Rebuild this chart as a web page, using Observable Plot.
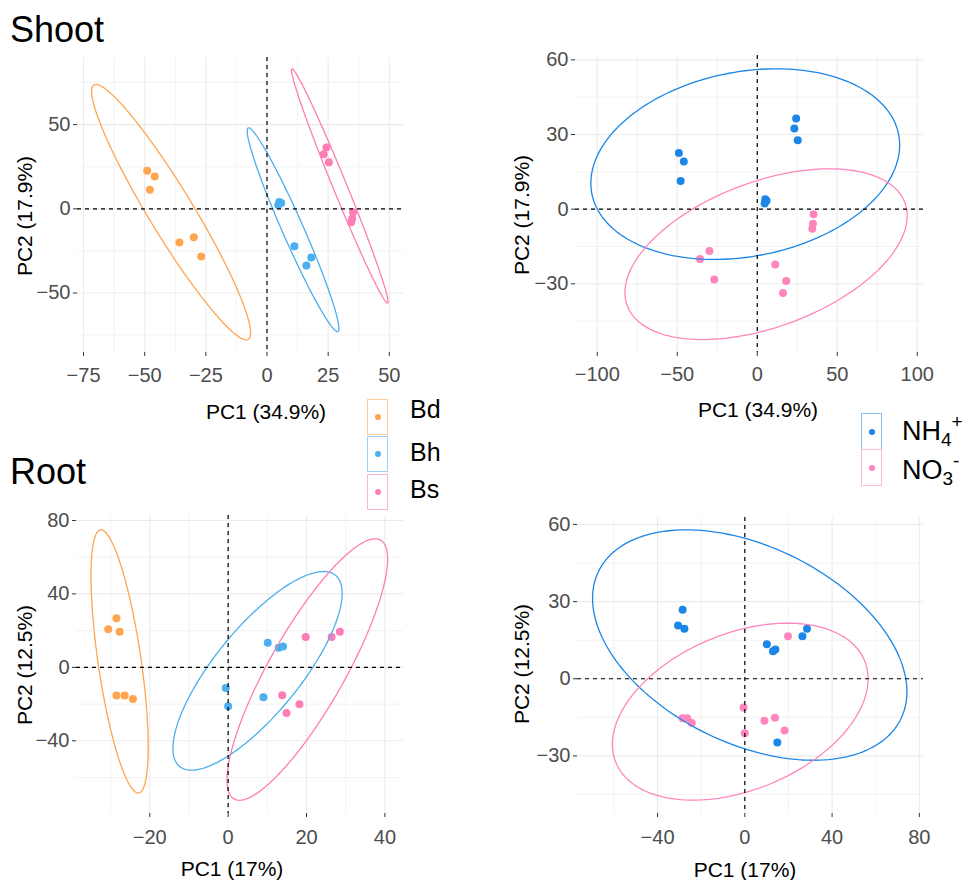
<!DOCTYPE html>
<html>
<head>
<meta charset="utf-8">
<script src="https://cdn.jsdelivr.net/npm/d3@7"></script>
<script src="https://cdn.jsdelivr.net/npm/@observablehq/plot@0.6"></script>
<style>
  html, body { margin: 0; padding: 0; background: #fff; }
  #root { position: relative; width: 969px; height: 880px; overflow: hidden; font-family: "Liberation Sans", Arial, sans-serif; background: #fff; }
  .abs { position: absolute; white-space: nowrap; line-height: 1; }
  .panel { position: absolute; }
</style>
</head>
<body>
<div id="root"></div>
<script>
// ---------------- DATA ----------------
const genotypes = ["Bd", "Bh", "Bs"];
const nitrogens = ["NH4+", "NO3-"];
const genotypeColors = ["#FFA552", "#4AAFEE", "#FF7DB5"];
const nitrogenColors = ["#1B86E6", "#FF86BD"];
const genotypeKeyBorders = ["#FFCC9C", "#9ED3F5", "#FFB3D4"];
const nitrogenKeyBorders = ["#8CC0F2", "#FFB8D8"];

// Shoot samples
const shootGenotype = ["Bd","Bd","Bd","Bd","Bd","Bd","Bh","Bh","Bh","Bh","Bh","Bh","Bs","Bs","Bs","Bs","Bs","Bs"];
const shootNitrogen = ["NH4+","NH4+","NH4+","NO3-","NO3-","NO3-","NH4+","NH4+","NH4+","NO3-","NO3-","NO3-","NH4+","NH4+","NH4+","NO3-","NO3-","NO3-"];
const shootPC1 = [-49.0, -45.9, -47.9, -35.8, -29.9, -26.9, 5.0, 5.8, 4.6, 11.2, 18.1, 16.1, 24.3, 23.2, 25.3, 35.2, 34.8, 34.4];
const shootPC2 = [22.6, 19.2, 11.3, -20.0, -16.8, -28.3, 4.0, 3.4, 2.3, -22.2, -28.9, -33.7, 36.4, 32.4, 27.7, -2.0, -5.9, -7.9];

// Root samples
const rootGenotype = ["Bd","Bd","Bd","Bd","Bd","Bd","Bh","Bh","Bh","Bh","Bh","Bh","Bs","Bs","Bs","Bs","Bs","Bs"];
const rootNitrogen = ["NH4+","NH4+","NH4+","NO3-","NO3-","NO3-","NH4+","NH4+","NH4+","NO3-","NO3-","NO3-","NH4+","NH4+","NH4+","NO3-","NO3-","NO3-"];
const rootPC1 = [-28.5, -30.6, -27.7, -28.5, -26.4, -24.3, 10.1, 12.9, 14.0, -0.6, 0.0, 9.0, 26.4, 28.5, 14.9, 19.8, 13.8, 18.2];
const rootPC2 = [26.8, 20.7, 19.4, -15.4, -15.4, -17.2, 13.4, 10.7, 11.4, -11.2, -21.2, -16.3, 16.5, 19.4, -24.8, 16.5, -15.2, -20.1];

// Confidence ellipses (centre, half-ranges, correlation)
const shootGenoEllCx = [-39.2, 10.65, 29.75];
const shootGenoEllCy = [-2.0, -12.4, 13.55];
const shootGenoEllRx = [32.5, 18.75, 19.75];
const shootGenoEllRy = [75.8, 60.5, 69.55];
const shootGenoEllRho = [-0.945, -0.968, -0.988];

const shootNitEllCx = [-7.5, 5.5];
const shootNitEllCy = [18.1, -18.1];
const shootNitEllRx = [96.5, 88.2];
const shootNitEllRy = [38.3, 34.3];
const shootNitEllRho = [0.2, 0.45];

const rootGenoEllCx = [-27.7, 7.5, 20.2];
const rootGenoEllCy = [3.25, -1.9, -1.2];
const rootGenoEllRx = [7.3, 21.6, 20.5];
const rootGenoEllRy = [71.65, 54.1, 71.2];
const rootGenoEllRho = [-0.65, 0.78, 0.845];

const rootNitEllCx = [2.25, -2.1];
const rootNitEllCy = [13.1, -12.8];
const rootNitEllRx = [72.05, 58.6];
const rootNitEllRy = [44.8, 34.4];
const rootNitEllRho = [-0.405, 0.37];

// Tick values
const shootGenoXTicks = [-75, -50, -25, 0, 25, 50];
const shootGenoXMinor = [-62.5, -37.5, -12.5, 12.5, 37.5];
const shootGenoYTicks = [-50, 0, 50];
const shootGenoYMinor = [-75, -25, 25, 75];
const shootNitXTicks = [-100, -50, 0, 50, 100];
const shootNitXMinor = [-75, -25, 25, 75];
const shootNitYTicks = [-30, 0, 30, 60];
const shootNitYMinor = [-45, -15, 15, 45];
const rootGenoXTicks = [-20, 0, 20, 40];
const rootGenoXMinor = [-30, -10, 10, 30];
const rootGenoYTicks = [-40, 0, 40, 80];
const rootGenoYMinor = [-60, -20, 20, 60];
const rootNitXTicks = [-40, 0, 40, 80];
const rootNitXMinor = [-60, -20, 20, 60];
const rootNitYTicks = [-30, 0, 30, 60];
const rootNitYMinor = [-45, -15, 15, 45];

// ---------------- BUILD ----------------
function samples(pc1, pc2, geno, nit) {
  return pc1.map((v, i) => ({x: v, y: pc2[i], genotype: geno[i], nitrogen: nit[i]}));
}
function ellipse(groups, cx, cy, rx, ry, rho) {
  const out = [];
  const n = 180;
  groups.forEach((g, i) => {
    const phi = Math.acos(rho[i]);
    for (let k = 0; k <= n; k++) {
      const t = 2 * Math.PI * k / n;
      out.push({g, x: cx[i] + rx[i] * Math.cos(t), y: cy[i] + ry[i] * Math.cos(t - phi)});
    }
  });
  return out;
}

const FONT = '"Liberation Sans", Arial, sans-serif';

function panel(o) {
  return Plot.plot({
    width: o.width, height: o.height,
    marginLeft: o.ml, marginRight: o.mr, marginTop: o.mt, marginBottom: o.mb,
    style: {background: "transparent", fontFamily: FONT, overflow: "visible"},
    x: {domain: o.xDomain, axis: null},
    y: {domain: o.yDomain, axis: null},
    color: {domain: o.groups, range: o.colors},
    marks: [
      Plot.gridX(o.xMinor, {stroke: "#EBEBEB", strokeOpacity: 1, strokeWidth: 0.6}),
      Plot.gridY(o.yMinor, {stroke: "#EBEBEB", strokeOpacity: 1, strokeWidth: 0.6}),
      Plot.gridX(o.xTicks, {stroke: "#EBEBEB", strokeOpacity: 1, strokeWidth: 1.1}),
      Plot.gridY(o.yTicks, {stroke: "#EBEBEB", strokeOpacity: 1, strokeWidth: 1.1}),
      Plot.axisX(o.xTicks, {anchor: "bottom", tickSize: 4, tickPadding: o.xPad, fontSize: 20, color: "#4D4D4D", stroke: "#333333", label: null}),
      Plot.axisY(o.yTicks, {anchor: "left", tickSize: 4, tickPadding: 3, fontSize: 20, color: "#4D4D4D", stroke: "#333333", label: null}),
      Plot.dot(o.points, {x: "x", y: "y", fill: o.key, r: 4, stroke: null}),
      Plot.line(o.ell, {x: "x", y: "y", z: "g", stroke: "g", strokeWidth: 1.3, curve: "linear"}),
      Plot.ruleX([0], {stroke: "#000", strokeWidth: 1.2, strokeDasharray: "4,4"}),
      Plot.ruleY([0], {stroke: "#000", strokeWidth: 1.2, strokeDasharray: "4,4"})
    ]
  });
}

const root = document.getElementById("root");
function place(el, left, top) {
  const d = document.createElement("div");
  d.className = "panel";
  d.style.left = left + "px";
  d.style.top = top + "px";
  d.appendChild(el);
  root.appendChild(d);
}

const shootPts = samples(shootPC1, shootPC2, shootGenotype, shootNitrogen);
const rootPts = samples(rootPC1, rootPC2, rootGenotype, rootNitrogen);

place(panel({
  width: 480, height: 440, ml: 77, mr: 77, mt: 57, mb: 88, xPad: 11,
  xDomain: [-77.47, 55.8], yDomain: [-85.3, 89.85],
  xTicks: shootGenoXTicks, xMinor: shootGenoXMinor, yTicks: shootGenoYTicks, yMinor: shootGenoYMinor,
  groups: genotypes, colors: genotypeColors, key: "genotype", points: shootPts,
  ell: ellipse(genotypes, shootGenoEllCx, shootGenoEllCy, shootGenoEllRx, shootGenoEllRy, shootGenoEllRho)
}), 0, 0);

place(panel({
  width: 489, height: 440, ml: 95, mr: 46, mt: 55, mb: 88, xPad: 10,
  xDomain: [-113.6, 103.9], yDomain: [-57.6, 61.75],
  xTicks: shootNitXTicks, xMinor: shootNitXMinor, yTicks: shootNitYTicks, yMinor: shootNitYMinor,
  groups: nitrogens, colors: nitrogenColors, key: "nitrogen", points: shootPts,
  ell: ellipse(nitrogens, shootNitEllCx, shootNitEllCy, shootNitEllRx, shootNitEllRy, shootNitEllRho)
}), 480, 0);

place(panel({
  width: 480, height: 440, ml: 76, mr: 77, mt: 75, mb: 67, xPad: 12,
  xDomain: [-38.7, 44.75], yDomain: [-79.6, 82.7],
  xTicks: rootGenoXTicks, xMinor: rootGenoXMinor, yTicks: rootGenoYTicks, yMinor: rootGenoYMinor,
  groups: genotypes, colors: genotypeColors, key: "genotype", points: rootPts,
  ell: ellipse(genotypes, rootGenoEllCx, rootGenoEllCy, rootGenoEllRx, rootGenoEllRy, rootGenoEllRho)
}), 0, 440);

place(panel({
  width: 489, height: 440, ml: 97, mr: 46, mt: 77, mb: 67, xPad: 12,
  xDomain: [-76.7, 81.9], yDomain: [-52.4, 62.7],
  xTicks: rootNitXTicks, xMinor: rootNitXMinor, yTicks: rootNitYTicks, yMinor: rootNitYMinor,
  groups: nitrogens, colors: nitrogenColors, key: "nitrogen", points: rootPts,
  ell: ellipse(nitrogens, rootNitEllCx, rootNitEllCy, rootNitEllRx, rootNitEllRy, rootNitEllRho)
}), 480, 440);

// ---------------- TEXT / LEGENDS ----------------
function textAt(html, left, baseline, size, color) {
  const d = document.createElement("div");
  d.className = "abs";
  d.innerHTML = html;
  d.style.left = left + "px";
  d.style.top = (baseline - 0.8465 * size) + "px";
  d.style.fontSize = size + "px";
  d.style.color = color || "#000";
  root.appendChild(d);
  return d;
}
function centeredText(txt, cx, cy, size, rotate) {
  const d = document.createElement("div");
  d.className = "abs";
  d.textContent = txt;
  d.style.left = cx + "px";
  d.style.top = cy + "px";
  d.style.fontSize = size + "px";
  d.style.color = "#000";
  d.style.transform = "translate(-50%, -50%)" + (rotate ? " rotate(" + rotate + "deg)" : "");
  root.appendChild(d);
}

textAt("Shoot", 10, 42, 36);
textAt("Root", 10, 484, 36);

centeredText("PC1 (34.9%)", 266, 411, 21);
centeredText("PC2 (17.9%)", 24, 216, 21, -90);
centeredText("PC1 (34.9%)", 758, 409, 21);
centeredText("PC2 (17.9%)", 521, 215, 21, -90);
centeredText("PC1 (17%)", 232, 868, 21);
centeredText("PC2 (12.5%)", 24, 665, 21, -90);
centeredText("PC1 (17%)", 745, 869, 21);
centeredText("PC2 (12.5%)", 521, 664, 21, -90);

function legendKey(left, top, w, h, color, border) {
  const box = document.createElement("div");
  box.style.position = "absolute";
  box.style.boxSizing = "border-box";
  box.style.left = left + "px";
  box.style.top = top + "px";
  box.style.width = w + "px";
  box.style.height = h + "px";
  box.style.border = "1px solid " + border;
  const dot = document.createElement("div");
  dot.style.position = "absolute";
  dot.style.width = "6px"; dot.style.height = "6px";
  dot.style.borderRadius = "50%";
  dot.style.background = color;
  dot.style.left = (w / 2 - 4) + "px";
  dot.style.top = (h / 2 - 4) + "px";
  box.appendChild(dot);
  root.appendChild(box);
}

// genotype legend
const genoLegendTops = [399, 436, 474];
const genoLegendBaselines = [418, 461, 498];
genotypes.forEach((g, i) => {
  legendKey(367, genoLegendTops[i], 21, 36, genotypeColors[i], genotypeKeyBorders[i]);
  textAt(g, 410, genoLegendBaselines[i], 25);
});

// nitrogen legend
const nitLegendTops = [413, 449];
const nitLegendBaselines = [441, 480];
const nitLabelsHtml = [
  'NH<span style="font-size:19px;position:relative;top:6px">4</span><span style="font-size:19px;position:relative;top:-12px">+</span>',
  'NO<span style="font-size:19px;position:relative;top:6px">3</span><span style="font-size:19px;position:relative;top:-12px">-</span>'
];
nitrogens.forEach((n, i) => {
  legendKey(861, nitLegendTops[i], 21, 37, nitrogenColors[i], nitrogenKeyBorders[i]);
  textAt(nitLabelsHtml[i], 902, nitLegendBaselines[i], 27);
});
</script>
</body>
</html>
